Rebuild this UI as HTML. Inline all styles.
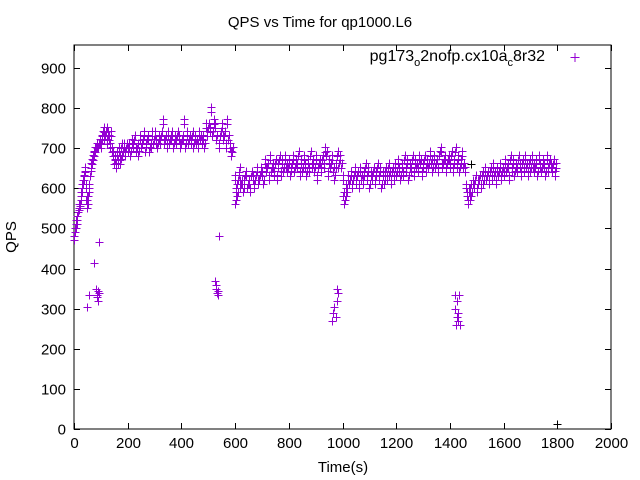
<!DOCTYPE html>
<html><head><meta charset="utf-8">
<style>
body{margin:0;background:#fff}
svg{display:block}
text{font-family:"Liberation Sans",sans-serif;fill:#000}
</style></head>
<body>
<svg id="chart" width="640" height="480" viewBox="0 0 640 480">
<rect x="0" y="0" width="640" height="480" fill="#fff"/>
<text x="320" y="27" font-size="15" text-anchor="middle">QPS vs Time for qp1000.L6</text>
<g id="axes"></g>
<g id="marks"></g>
<text x="545" y="61" font-size="16" text-anchor="end">pg173<tspan dy="5" font-size="11">o</tspan><tspan dy="-5">2nofp.cx10a</tspan><tspan dy="5" font-size="11">c</tspan><tspan dy="-5">8r32</tspan></text>
<g><path d="M570.5 57.5h9M575 53v9" stroke="#9400d3" stroke-width="1"/></g>
<text x="343" y="472" font-size="15" text-anchor="middle">Time(s)</text>
<text x="16" y="237" font-size="15" text-anchor="middle" transform="rotate(-90 16 237)">QPS</text>
</svg>
<script>
const xTicks=[0,200,400,600,800,1000,1200,1400,1600,1800,2000];
const yTicks=[0,100,200,300,400,500,600,700,800,900];
const times=[0,3,6,8,10,13,16,18,20,23,26,28,30,33,36,38,40,43,46,48,50,53,56,60,63,66,70,73,76,80,85,90,95,
100,103,106,110,113,116,120,123,126,130,133,136,140,145,
150,153,156,160,163,166,170,173,176,180,183,186,190,195,
200,205,210,215,220,225,230,235,240,245,250,255,260,265,270,275,280,285,290,295,
300,305,310,315,320,325,330,335,340,345,350,355,360,365,370,375,380,385,390,395,400,405,410,415,420,425,430,435,440,445,450,455,460,465,470,475,480,485,490,495,
500,505,510,515,520,525,530,540,545,550,555,560,565,570,575,580,585,590,
598,600,602,605,608,612,615,618,620,625,630,635,640,645,650,655,660,665,670,675,680,685,690,695,700,705,710,715,720,725,730,735,740,745,750,755,760,765,770,775,780,785,790,795,
800,805,810,815,820,825,830,835,840,845,850,855,860,865,870,875,880,885,890,895,900,905,910,915,920,925,930,935,940,945,950,955,960,965,970,975,980,985,990,995,
1000,1003,1006,1010,1013,1016,1020,1025,1030,1035,1040,1045,1050,1055,1060,1065,1070,1075,1080,1085,1090,1095,1100,1105,1110,1115,1120,1125,1130,1135,1140,1145,1150,1155,1160,1165,1170,1175,1180,1185,1190,1195,
1200,1205,1210,1215,1220,1225,1230,1235,1240,1245,1250,1255,1260,1265,1270,1275,1280,1285,1290,1295,1300,1305,1310,1315,1320,1325,1330,1335,1340,1345,1350,1355,1360,1365,1370,1375,1380,1385,1390,1395,
1400,1405,1410,1415,1420,1425,1430,1435,1440,1445,1450,1455,1460,1463,1466,1470,1473,1476,1480,1485,1490,1495,
1500,1505,1510,1515,1520,1525,1530,1535,1540,1545,1550,1555,1560,1565,1570,1575,1580,1585,1590,1595,
1600,1605,1610,1615,1620,1625,1630,1635,1640,1645,1650,1655,1660,1665,1670,1675,1680,1685,1690,1695,1700,1705,1710,1715,1720,1725,1730,1735,1740,1745,1750,1755,1760,1765,1770,1775,1780,1785,1790,1795];
const qps=[470,490,500,520,510,530,540,550,545,560,580,590,600,610,620,630,640,600,570,560,550,580,600,630,650,660,670,680,690,690,700,700,710,
700,720,730,740,720,730,740,710,730,720,700,730,690,680,
660,670,650,680,660,690,670,660,700,680,690,700,680,700,
690,700,680,710,700,720,690,700,680,720,700,710,730,690,710,720,690,700,730,710,
730,710,700,720,710,730,760,710,720,700,730,710,720,730,700,720,710,730,720,700,710,720,760,700,730,710,720,710,730,700,720,710,700,730,720,710,720,700,750,730,
750,740,790,730,760,750,720,700,730,750,720,730,700,760,720,700,680,690,
620,560,590,600,580,620,640,610,600,610,590,620,630,600,610,590,630,620,600,620,640,610,620,640,630,610,660,640,650,620,670,640,650,630,660,620,650,670,630,660,640,670,650,640,
660,630,650,670,640,660,650,680,630,660,640,670,650,630,660,640,680,650,660,640,670,620,650,660,640,670,650,690,680,630,660,650,670,640,620,650,680,650,670,650,
620,580,560,570,600,590,620,610,630,600,620,640,610,630,600,640,620,610,630,650,620,640,600,630,620,640,610,630,650,620,640,600,630,610,640,620,650,630,610,640,620,650,
630,660,640,620,650,630,670,640,660,620,650,640,670,630,660,650,640,670,660,630,650,670,640,660,650,680,660,640,670,650,660,640,680,690,650,660,670,640,660,670,
650,680,640,660,690,650,670,640,660,680,650,640,600,580,560,590,570,600,580,610,600,620,
590,610,620,600,630,610,640,620,630,610,640,620,650,630,610,640,630,650,620,640,
630,660,640,650,620,670,640,660,630,650,640,670,650,630,660,640,670,650,630,660,640,670,650,640,660,630,670,650,640,660,650,630,670,640,660,650,640,660,630,650];
const outTimes=[50,55,75,82,85,87,88,90,92,93,525,528,530,532,535,538,540,960,965,970,975,978,980,985,1418,1420,1422,1425,1428,1430,1432,1435,1438,1480,1800];
const outQps=[305,335,415,350,335,330,345,320,340,465,370,360,350,340,335,345,480,270,290,305,280,350,320,340,335,300,260,320,280,290,270,335,260,660,12];
const svgNS="http://www.w3.org/2000/svg";
const X0=74,X1=611,Y0=429,YT=45,YMAX=900,Y900=68;
function xs(t){return X0+(t/2000)*(X1-X0);}
function ys(v){return Y0-(v/YMAX)*(Y0-Y900);}
const axes=document.getElementById('axes');
const marks=document.getElementById('marks');
function el(tag,attrs,parent){const e=document.createElementNS(svgNS,tag);for(const k in attrs)e.setAttribute(k,attrs[k]);parent.appendChild(e);return e;}
const frame=el('rect',{x:X0,y:YT,width:X1-X0,height:Y0-YT,fill:'none',stroke:'#000','stroke-width':1},axes);


xTicks.forEach(t=>{
  const x=Math.round(xs(t))+0.5;
  const tk=el('path',{d:`M${x} ${Y0}v-6M${x} ${YT}v6`,stroke:'#000','stroke-width':1},axes);
  
  
  const lb=el('text',{x:x,y:Y0+19,'font-size':15,'text-anchor':'middle'},axes);
  lb.textContent=t;
  
  
});
yTicks.forEach(v=>{
  const y=Math.round(ys(v))+0.5;
  const tk=el('path',{d:`M${X0} ${y}h6M${X1} ${y}h-6`,stroke:'#000','stroke-width':1},axes);
  
  
  const lb=el('text',{x:X0-8,y:y+5,'font-size':15,'text-anchor':'end'},axes);
  lb.textContent=v;
  
  
});
function plus(t,v,color,name){
  const x=Math.round(xs(t))+0.5,y=Math.round(ys(v))+0.5;
  const p=el('path',{d:`M${x-4} ${y}h8M${x} ${y-4}v8`,stroke:color,'stroke-width':1},marks);
  
  
}
times.forEach((t,i)=>{plus(t,qps[i],'#9400d3','data-point');plus(t+1.5,qps[i]+12,'#9400d3','data-point');});
outTimes.forEach((t,i)=>plus(t,outQps[i],i>=outTimes.length-2?'#000':'#9400d3','outlier-point'));
</script>
</body></html>
